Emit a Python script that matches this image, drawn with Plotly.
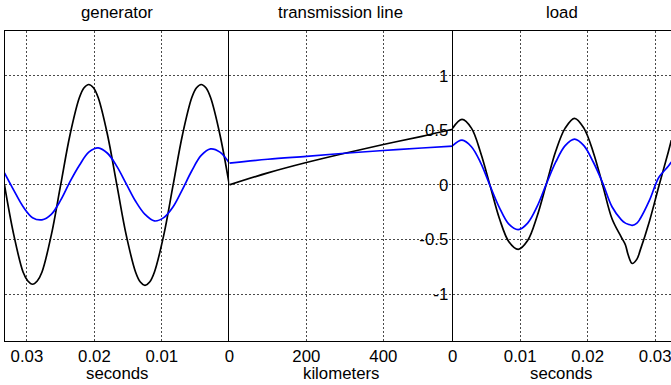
import plotly.graph_objects as go

# ---------------- data ----------------
# generator panel (time in seconds, axis reversed)
gen_t_black = [0, 0.00139, 0.00278, 0.00347, 0.00417, 0.00486, 0.00556, 0.00694, 0.00833,
               0.00972, 0.01111, 0.01181, 0.0125, 0.01319, 0.01389, 0.01528, 0.01667,
               0.01806, 0.01944, 0.02014, 0.02083, 0.02153, 0.02222, 0.02361, 0.025,
               0.02639, 0.02778, 0.02847, 0.02917, 0.02986, 0.03056, 0.03194, 0.03333]
gen_black = [0, 0.46, 0.80, 0.89, 0.92, 0.89, 0.80, 0.46, 0, -0.46, -0.80, -0.89, -0.92,
             -0.89, -0.80, -0.46, 0, 0.46, 0.80, 0.89, 0.92, 0.89, 0.80, 0.46, 0, -0.46,
             -0.80, -0.88, -0.91, -0.88, -0.80, -0.46, 0]
gen_t_blue = [0, 0.00139, 0.00278, 0.00417, 0.00556, 0.00694, 0.00833, 0.00972, 0.01111,
              0.0125, 0.01389, 0.01528, 0.01667, 0.01806, 0.01944, 0.02083, 0.02222,
              0.02361, 0.025, 0.02639, 0.02778, 0.02917, 0.03056, 0.03194, 0.03333]
gen_blue = [0.20, 0.30, 0.33, 0.27, 0.13, -0.04, -0.20, -0.30, -0.33, -0.27, -0.15, 0.01,
            0.17, 0.29, 0.34, 0.30, 0.18, 0.03, -0.14, -0.27, -0.32, -0.30, -0.20, -0.05, 0.11]

# transmission line panel (kilometers)
trans_km = [0, 100, 200, 300, 400, 500, 580]
trans_black = [0, 0.11, 0.205, 0.29, 0.37, 0.445, 0.51]
trans_blue = [0.20, 0.235, 0.262, 0.29, 0.315, 0.338, 0.355]

# load panel (time in seconds)
load_t = [0, 0.00139, 0.00278, 0.00417, 0.00556, 0.00694, 0.00833, 0.00972, 0.01111,
          0.0125, 0.01389, 0.01528, 0.01667, 0.01806, 0.01944, 0.02083, 0.02222,
          0.02361, 0.025, 0.0256, 0.026, 0.0266, 0.0273, 0.02778, 0.02917, 0.03056,
          0.03194, 0.0324]
load_black = [0.52, 0.60, 0.52, 0.29, -0.01, -0.31, -0.52, -0.59, -0.51, -0.29, 0.01, 0.31,
              0.52, 0.61, 0.52, 0.30, 0.0, -0.31, -0.48, -0.55, -0.64, -0.72, -0.68,
              -0.60, -0.33, -0.01, 0.30, 0.41]
load_blue = [0.36, 0.41, 0.35, 0.20, -0.01, -0.21, -0.36, -0.41, -0.35, -0.20, 0.01, 0.21,
             0.36, 0.42, 0.36, 0.21, 0.02, -0.20, -0.32, -0.35, -0.36, -0.37, -0.35,
             -0.31, -0.14, 0.07, 0.17, 0.21]

gen_ticks = [0.03, 0.02, 0.01]
gen_ticktext = ["0.03", "0.02", "0.01"]
trans_ticks = [0, 200, 400]
trans_ticktext = ["0", "200", "400"]
load_ticks = [0, 0.01, 0.02, 0.03]
load_ticktext = ["0", "0.01", "0.02", "0.03"]
y_ticks = [-1, -0.5, 0, 0.5, 1]
y_ticktext = ["-1", "-0.5", "0", "0.5", "1"]

panel_titles = ["generator", "transmission line", "load"]
axis_titles = ["seconds", "kilometers", "seconds"]

# ---------------- figure ----------------
W, H = 671, 385
ML, MR, MT, MB = 3, 0, 31, 44
pw = W - ML - MR
d1 = (228 - ML) / pw
d2 = (452 - ML) / pw

FONT = "Liberation Sans, Arial, sans-serif"
FS = 16.8
GRID = dict(showgrid=True, gridcolor="#4a4a4a", gridwidth=1, griddash="2px,2px",
            zeroline=False, showline=True, linecolor="black", linewidth=1, ticks="")
YR = [-1.43, 1.41]

fig = go.Figure()
lw = 1.7
fig.add_trace(go.Scatter(x=gen_t_black, y=gen_black, xaxis="x", yaxis="y", mode="lines",
                         line=dict(color="black", width=lw, shape="spline")))
fig.add_trace(go.Scatter(x=gen_t_blue, y=gen_blue, xaxis="x", yaxis="y", mode="lines",
                         line=dict(color="#0000ff", width=lw, shape="spline")))
fig.add_trace(go.Scatter(x=trans_km, y=trans_black, xaxis="x2", yaxis="y2", mode="lines",
                         line=dict(color="black", width=lw, shape="spline")))
fig.add_trace(go.Scatter(x=trans_km, y=trans_blue, xaxis="x2", yaxis="y2", mode="lines",
                         line=dict(color="#0000ff", width=lw, shape="spline")))
fig.add_trace(go.Scatter(x=load_t, y=load_black, xaxis="x3", yaxis="y3", mode="lines",
                         line=dict(color="black", width=lw, shape="spline")))
fig.add_trace(go.Scatter(x=load_t, y=load_blue, xaxis="x3", yaxis="y3", mode="lines",
                         line=dict(color="#0000ff", width=lw, shape="spline")))

tickfont = dict(family=FONT, size=FS, color="black")
fig.update_layout(
    width=W, height=H,
    margin=dict(l=ML, r=MR, t=MT, b=MB, pad=0),
    paper_bgcolor="white", plot_bgcolor="white",
    showlegend=False,
    font=dict(family=FONT, size=FS, color="black"),
    xaxis=dict(domain=[0, d1], range=[0.03325, 0], anchor="y", tickvals=gen_ticks,
               ticktext=gen_ticktext, mirror=True, tickfont=tickfont,
               ticklabeloverflow="allow", **GRID),
    yaxis=dict(domain=[0, 1], range=YR, anchor="x", tickvals=y_ticks,
               showticklabels=False, mirror=False, **GRID),
    xaxis2=dict(domain=[d1, d2], range=[0, 580], anchor="y2", tickvals=trans_ticks,
                ticktext=trans_ticktext, mirror=True, tickfont=tickfont,
                ticklabeloverflow="allow", **GRID),
    yaxis2=dict(domain=[0, 1], range=YR, anchor="x2", tickvals=y_ticks,
                showticklabels=False, mirror=False, **GRID),
    xaxis3=dict(domain=[d2, 1], range=[0, 0.03235], anchor="y3", tickvals=load_ticks,
                ticktext=load_ticktext, mirror=True, tickfont=tickfont,
                ticklabeloverflow="allow", **GRID),
    yaxis3=dict(domain=[0, 1], range=YR, anchor="x3", tickvals=y_ticks,
                ticktext=y_ticktext, showticklabels=True, side="left", mirror=False,
                tickfont=tickfont, ticklabeloverflow="allow", **GRID),
)

centers = [(0 + d1) / 2, (d1 + d2) / 2, (d2 + 1) / 2]
ph = H - MT - MB
for c, t in zip(centers, panel_titles):
    fig.add_annotation(x=c, y=1 + (MT - 13) / ph, xref="paper", yref="paper", text=t,
                       showarrow=False, xanchor="center", yanchor="middle",
                       font=dict(family=FONT, size=FS, color="black"))
for c, t in zip(centers, axis_titles):
    fig.add_annotation(x=c, y=-(373 - (H - MB)) / ph, xref="paper", yref="paper", text=t,
                       showarrow=False, xanchor="center", yanchor="middle",
                       font=dict(family=FONT, size=FS, color="black"))

fig.write_html("out.html")
